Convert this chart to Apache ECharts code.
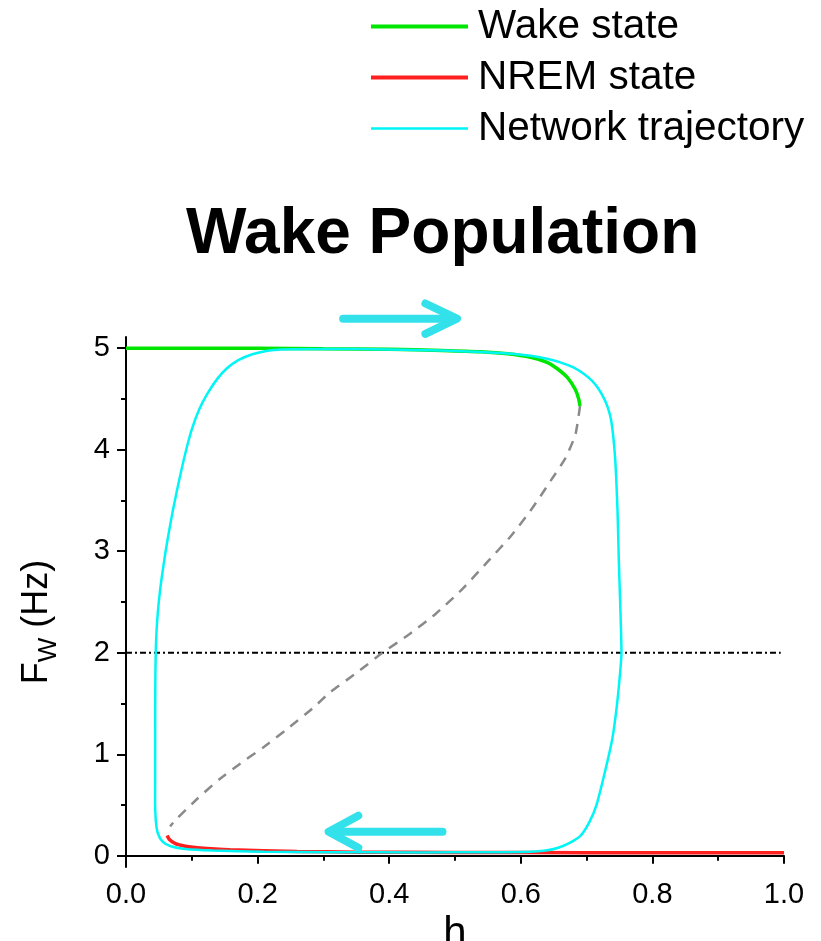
<!DOCTYPE html>
<html>
<head>
<meta charset="utf-8">
<script src="https://cdn.jsdelivr.net/npm/echarts@6/dist/echarts.min.js"></script>
<style>
html, body { margin: 0; padding: 0; background: #fff; }
#chart { width: 821px; height: 941px; }
</style>
</head>
<body>
<div id="chart"></div>
<script>
// Phase-plane of the wake population: firing rate F_W against homeostatic variable h.
const wakeState = [[0, 5.0], [0.1, 5.0], [0.2, 5.0], [0.3, 4.995], [0.4, 4.99], [0.48, 4.978],
  [0.539, 4.965], [0.58, 4.945], [0.615, 4.91], [0.64, 4.86], [0.655, 4.80], [0.671, 4.71],
  [0.683, 4.59], [0.688, 4.50], [0.690, 4.43]];

const nremState = [[0.0625, 0.20], [0.066, 0.16], [0.075, 0.12], [0.09, 0.095], [0.108, 0.08],
  [0.158, 0.059], [0.26, 0.043], [0.35, 0.036], [0.5, 0.033], [0.7, 0.031], [1.0, 0.03]];

const unstableBranch = [[0.690, 4.43], [0.683, 4.15], [0.668, 3.92], [0.645, 3.69], [0.617, 3.42],
  [0.585, 3.15], [0.55, 2.90], [0.51, 2.62], [0.47, 2.38], [0.43, 2.18], [0.39, 2.0], [0.35, 1.80],
  [0.31, 1.61], [0.285, 1.46], [0.245, 1.25], [0.209, 1.07], [0.174, 0.91], [0.143, 0.76],
  [0.108, 0.56], [0.075, 0.35], [0.067, 0.29]];

// Limit cycle, traversed clockwise from the lower-left side
const trajectory = [[0.0442, 0.5], [0.0443, 1.0], [0.0444, 1.5], [0.0447, 1.8], [0.0452, 2.0],
  [0.0463, 2.2], [0.0484, 2.4], [0.0515, 2.6], [0.0556, 2.8], [0.0602, 3.0], [0.0655, 3.2],
  [0.0712, 3.4], [0.0775, 3.6], [0.0842, 3.8], [0.0915, 4.0], [0.1000, 4.2], [0.1115, 4.4],
  [0.1235, 4.55], [0.1390, 4.7], [0.1530, 4.8], [0.1700, 4.88], [0.1920, 4.94], [0.2150, 4.975],
  [0.2350, 4.988], [0.30, 4.992], [0.40, 4.988], [0.48, 4.977], [0.539, 4.963], [0.58, 4.947],
  [0.615, 4.925], [0.640, 4.895], [0.660, 4.86], [0.680, 4.81], [0.695, 4.75], [0.708, 4.68],
  [0.718, 4.60], [0.726, 4.51], [0.732, 4.42], [0.737, 4.30], [0.741, 4.10], [0.744, 3.85],
  [0.747, 3.40], [0.749, 2.90], [0.751, 2.50], [0.753, 2.0], [0.751, 1.81], [0.746, 1.48],
  [0.739, 1.15], [0.728, 0.83], [0.715, 0.50], [0.704, 0.33], [0.691, 0.20], [0.675, 0.13],
  [0.657, 0.08], [0.638, 0.052], [0.615, 0.040], [0.55, 0.035], [0.45, 0.034], [0.31, 0.036],
  [0.209, 0.041], [0.132, 0.053], [0.090, 0.068], [0.068, 0.095], [0.0555, 0.14], [0.0485, 0.22],
  [0.0455, 0.33], [0.0442, 0.5]];

const threshold = [[0, 2], [0.995, 2]];

// Direction-of-travel arrows (shaft + open head), in data units
const arrowTopShaft = [[0.330, 5.29], [0.497, 5.29]];
const arrowTopHead = [[0.455, 5.44], [0.503, 5.29], [0.455, 5.14]];
const arrowBottomShaft = [[0.481, 0.237], [0.314, 0.237]];
const arrowBottomHead = [[0.353, 0.395], [0.308, 0.237], [0.353, 0.079]];

const legendNames = ['Wake state', 'NREM state', 'Network trajectory'];
const xRange = [0, 1];
const yRange = [-0.11, 5.11];
const yMajorTicks = [0, 1, 2, 3, 4, 5];
const yMinorTicks = [0.5, 1.5, 2.5, 3.5, 4.5];

const FONT = "'Liberation Sans', Arial, sans-serif";
const INK = '#000';
const ARROW = '#33e1ea';
const GREEN = '#00e600';
const RED = '#ff2020';
const CYAN = '#00f5f5';

const chart = echarts.init(document.getElementById('chart'), null, { renderer: 'canvas' });

function arrowSeries(data) {
  return {
    type: 'line', data: data, symbol: 'none', clip: false, silent: true, z: 5,
    lineStyle: { color: ARROW, width: 8, cap: 'round', join: 'round' }
  };
}

chart.setOption({
  animation: false,
  backgroundColor: '#fff',
  title: {
    text: 'Wake Population',
    left: 181, top: 198,
    textStyle: { fontFamily: FONT, fontWeight: 'bold', fontSize: 64, color: INK }
  },
  legend: {
    data: [
      { name: legendNames[0], lineStyle: { width: 4, color: GREEN } },
      { name: legendNames[1], lineStyle: { width: 4, color: RED } },
      { name: legendNames[2], lineStyle: { width: 2.5, color: CYAN } }
    ],
    orient: 'vertical', left: 369, top: 6, padding: 0,
    itemWidth: 97, itemHeight: 4, itemGap: 10,
    itemStyle: { opacity: 0 },
    textStyle: { fontFamily: FONT, fontSize: 40.5, lineHeight: 40, color: INK, padding: [0, 0, 0, 5] }
  },
  grid: { left: 126, right: 37, top: 337, bottom: 74, outerBoundsMode: 'none' },
  xAxis: {
    type: 'value', min: xRange[0], max: xRange[1], interval: 0.2,
    name: 'h', nameLocation: 'middle', nameGap: 28,
    nameTextStyle: { fontFamily: FONT, fontSize: 42, color: INK },
    axisLine: { lineStyle: { color: INK, width: 2 } },
    axisTick: { length: 8, lineStyle: { color: INK, width: 2 } },
    minorTick: { show: true, splitNumber: 2, length: 5, lineStyle: { color: INK, width: 2 } },
    axisLabel: { fontFamily: FONT, fontSize: 29, color: INK, margin: 13,
      formatter: v => v.toFixed(1) },
    splitLine: { show: false }
  },
  yAxis: [{
    type: 'value', min: yRange[0], max: yRange[1],
    name: 'F{sub|W} (Hz)', nameLocation: 'middle', nameGap: 64,
    nameTextStyle: {
      fontFamily: FONT, fontSize: 36, color: INK, lineHeight: 50, padding: [0, 40, 0, 0],
      rich: { sub: { fontFamily: FONT, fontSize: 26, color: INK, lineHeight: 26, verticalAlign: 'bottom' } }
    },
    axisLine: { show: true, lineStyle: { color: INK, width: 2 } },
    axisTick: { show: true, length: 9, customValues: yMajorTicks, lineStyle: { color: INK, width: 2 } },
    axisLabel: { fontFamily: FONT, fontSize: 29, color: INK, margin: 16, customValues: yMajorTicks,
      formatter: v => String(Math.round(v)) },
    splitLine: { show: false }
  }, {
    type: 'value', min: yRange[0], max: yRange[1], position: 'left',
    axisLine: { show: false },
    axisTick: { show: true, length: 5, customValues: yMinorTicks, lineStyle: { color: INK, width: 2 } },
    axisLabel: { show: false },
    splitLine: { show: false }
  }],
  series: [
    {
      name: 'Threshold', type: 'line', data: threshold, symbol: 'none', silent: true, z: 1,
      lineStyle: { color: INK, width: 2, type: [6, 3, 2, 3] }
    },
    {
      name: legendNames[0], type: 'line', data: wakeState, symbol: 'none', smooth: 0.2, z: 2,
      color: GREEN, lineStyle: { color: GREEN, width: 3.5 }
    },
    {
      name: legendNames[1], type: 'line', data: nremState, symbol: 'none', smooth: 0.2, z: 2,
      color: RED, lineStyle: { color: RED, width: 3.5 }
    },
    {
      name: 'Unstable branch', type: 'line', data: unstableBranch, symbol: 'none', smooth: 0.2, z: 2,
      lineStyle: { color: '#8a8a8a', width: 2.5, type: [10, 8] }
    },
    {
      name: legendNames[2], type: 'line', data: trajectory, symbol: 'none', smooth: 0.2, z: 3,
      color: CYAN, lineStyle: { color: CYAN, width: 2.5 }
    },
    arrowSeries(arrowTopShaft),
    arrowSeries(arrowTopHead),
    arrowSeries(arrowBottomShaft),
    arrowSeries(arrowBottomHead)
  ]
});
</script>
</body>
</html>
